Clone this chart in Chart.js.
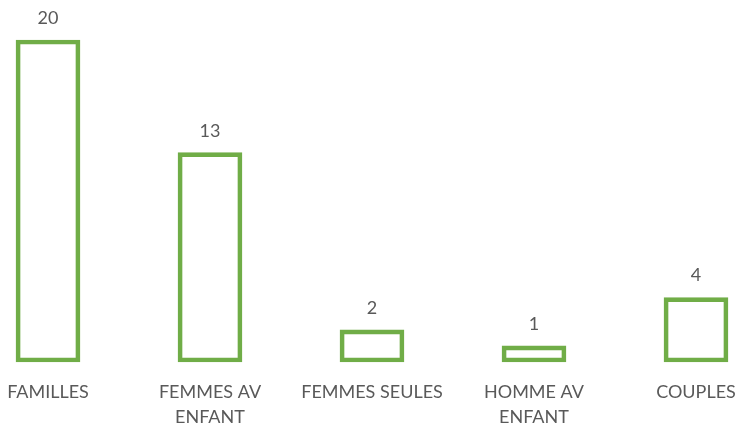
<!DOCTYPE html>
<html><head><meta charset="utf-8">
<script src="https://cdn.jsdelivr.net/npm/chart.js@4"></script>
<style>html,body{margin:0;padding:0;background:#fff}#c{display:block}</style>
</head><body>
<div style="width:735px;height:428px"><canvas id="c" width="735" height="428"></canvas></div>
<script>
const categories = [["FAMILLES"], ["FEMMES AV", "ENFANT"], ["FEMMES SEULES"], ["HOMME AV", "ENFANT"], ["COUPLES"]];
const values = [20, 13, 2, 1, 4];

const FONT = "Lato, 'Open Sans', sans-serif";
const valueLabels = {
  id: 'valueLabels',
  afterDatasetsDraw(chart) {
    const ctx = chart.ctx;
    const meta = chart.getDatasetMeta(0);
    ctx.save();
    ctx.fillStyle = '#595959';
    ctx.font = '18px ' + FONT;
    ctx.textAlign = 'center';
    ctx.textBaseline = 'middle';
    meta.data.forEach((el, i) => {
      ctx.fillText(String(values[i]), el.x, el.y - 22);
    });
    ctx.restore();
  }
};

new Chart(document.getElementById('c'), {
  type: 'bar',
  data: {
    labels: categories,
    datasets: [{
      data: values,
      backgroundColor: 'rgba(255,255,255,0)',
      borderColor: '#70AD47',
      borderWidth: 4,
      borderSkipped: false,
      barThickness: 64,
      clip: false
    }]
  },
  options: {
    responsive: false,
    animation: false,
    layout: { padding: { left: 48, right: 39, top: 40, bottom: 0 } },
    plugins: { legend: { display: false }, tooltip: { enabled: false } },
    scales: {
      x: {
        offset: false,
        grid: { display: false, drawTicks: false },
        border: { display: false },
        ticks: { color: '#595959', font: { family: FONT, size: 18, lineHeight: '25px' }, padding: 18, maxRotation: 0, autoSkip: false },
        afterFit(s) { s.height = 66; s.paddingLeft = 0; s.paddingRight = 0; }
      },
      y: {
        display: false,
        min: 0, max: 20
      }
    }
  },
  plugins: [valueLabels]
});
</script>
</body></html>
